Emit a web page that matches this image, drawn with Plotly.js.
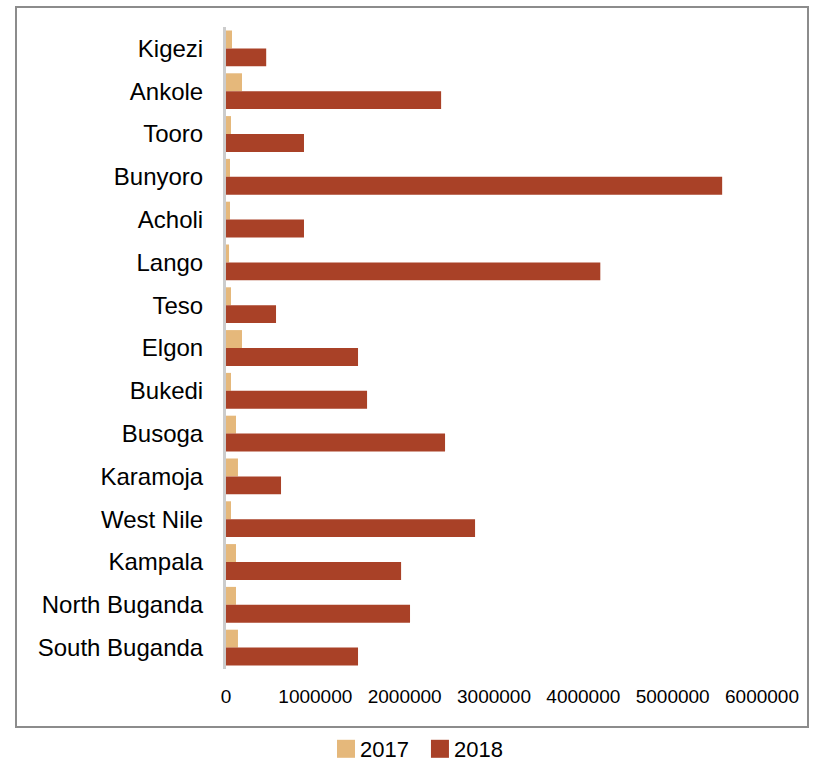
<!DOCTYPE html>
<html>
<head>
<meta charset="utf-8">
<script src="https://cdn.plot.ly/plotly-3.0.1.min.js"></script>
<style>
  html, body { margin: 0; padding: 0; background: #fff; }
  #chart { width: 814px; height: 761px; }
</style>
</head>
<body>
<div id="chart"></div>
<script>
const regions = ["Kigezi", "Ankole", "Tooro", "Bunyoro", "Acholi", "Lango", "Teso", "Elgon",
  "Bukedi", "Busoga", "Karamoja", "West Nile", "Kampala", "North Buganda", "South Buganda"];
const values2017 = [67000, 179000, 56000, 45000, 45000, 34000, 56000, 179000,
  56000, 112000, 134000, 56000, 112000, 112000, 134000];
const values2018 = [450000, 2408000, 873000, 5554000, 873000, 4190000, 560000, 1478000,
  1579000, 2452000, 616000, 2788000, 1960000, 2060000, 1478000];
const xTicks = [0, 1000000, 2000000, 3000000, 4000000, 5000000, 6000000];
const seriesNames = ["2017", "2018"];

const W = 814, H = 761;
const M = { l: 226, r: 52, t: 27, b: 92, autoexpand: false };
const pw = W - M.l - M.r, ph = H - M.t - M.b;
const px = x => (x - M.l) / pw;
const py = y => (H - M.b - y) / ph;

const font = "Liberation Sans, Arial, sans-serif";

const traces = [
  { type: "bar", orientation: "h", name: seriesNames[0], y: regions, x: values2017,
    marker: { color: "#E5B87B" }, hoverinfo: "x+y" },
  { type: "bar", orientation: "h", name: seriesNames[1], y: regions, x: values2018,
    marker: { color: "#A94127" }, hoverinfo: "x+y" }
];

const layout = {
  width: W, height: H,
  margin: M,
  paper_bgcolor: "#ffffff",
  plot_bgcolor: "#ffffff",
  barmode: "group",
  bargap: 0.163,
  bargroupgap: 0,
  font: { family: font, color: "#000000" },
  xaxis: {
    range: [0, 6000000],
    tickvals: xTicks,
    ticktext: xTicks.map(v => String(v)),
    showgrid: false,
    zeroline: false,
    showline: false,
    ticks: "",
    ticklabelstandoff: 14,
    tickfont: { family: font, size: 19, color: "#000000" },
    fixedrange: true
  },
  yaxis: {
    type: "category",
    autorange: "reversed",
    showgrid: false,
    zeroline: false,
    showline: true,
    linecolor: "#cccccc",
    linewidth: 3,
    ticks: "",
    ticklabelstandoff: 15,
    tickfont: { family: font, size: 24, color: "#000000" },
    fixedrange: true
  },
  showlegend: true,
  legend: {
    orientation: "h",
    x: px(420), xanchor: "center",
    y: py(760), yanchor: "bottom",
    font: { family: font, size: 22, color: "#000000" },
    bgcolor: "rgba(0,0,0,0)",
    traceorder: "normal",
    tracegroupgap: 0
  },
  shapes: [
    { type: "rect", xref: "paper", yref: "paper",
      x0: px(16), x1: px(808), y0: py(727), y1: py(7),
      line: { color: "#8c8c8c", width: 2 }, fillcolor: "rgba(0,0,0,0)", layer: "below" }
  ]
};

Plotly.newPlot("chart", traces, layout, { displayModeBar: false, staticPlot: true }).then(gd => {
  gd.querySelectorAll(".legendpoints path").forEach(p => {
    const t = p.getAttribute("transform") || "";
    p.setAttribute("transform", t + " scale(1.5)");
  });
  gd.querySelectorAll(".legend text.legendtext").forEach(t => {
    const x = parseFloat(t.getAttribute("x") || "40");
    t.setAttribute("x", x - 6);
  });
  // nudge the legend so its text sits where the reference has it
  const lg = gd.querySelector("g.legend");
  const txt = lg && lg.querySelector("text.legendtext");
  if (lg && txt) {
    const r = txt.getBoundingClientRect();
    const cur = r.top + r.height / 2;
    const dy = Math.max(0, Math.min(751 - cur, 10));
    const m = /translate\(\s*([-\d.]+)[ ,]+([-\d.]+)\s*\)/.exec(lg.getAttribute("transform") || "");
    if (m && dy > 0) {
      lg.setAttribute("transform", "translate(" + m[1] + "," + (parseFloat(m[2]) + dy) + ")");
    }
  }
});
</script>
</body>
</html>
